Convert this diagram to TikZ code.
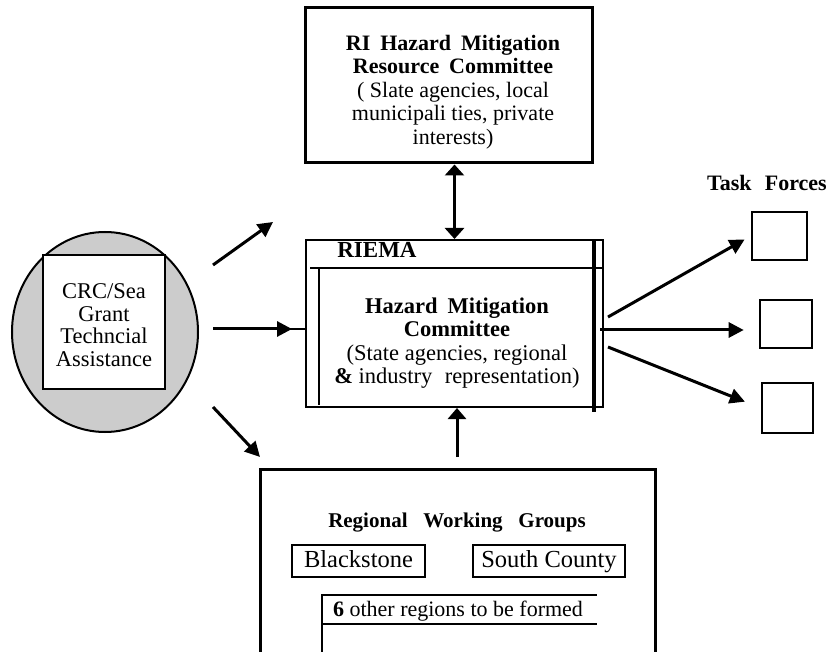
\documentclass[tikz,border=0pt]{standalone}
\usepackage{fontspec}
\setmainfont{Liberation Serif}
\usetikzlibrary{arrows.meta,shapes.geometric,calc}
\begin{document}
\begin{tikzpicture}[x=1pt,y=-1pt,
  boxline/.style={draw, line width=3pt},
  thinbox/.style={draw, line width=1.8pt, inner sep=0pt},
  arr/.style={line width=3pt, -{Triangle[length=15pt,width=15pt]}},
  dbl/.style={line width=3pt, {Triangle[length=11pt,width=19pt]}-{Triangle[length=11pt,width=19pt]}},
  uparr/.style={line width=3pt, -{Triangle[length=11pt,width=18pt]}},
  txt/.style={font=\fontsize{21}{23}\selectfont, align=center, inner sep=0pt},
  btxt/.style={font=\bfseries\fontsize{21}{23}\selectfont, align=center, inner sep=0pt}]
\useasboundingbox (0,0) rectangle (833,652);

% left circle with CRC box
\node[ellipse, draw, line width=2pt, fill=black!20, minimum width=186pt, minimum height=200pt, inner sep=0pt] (cir) at (105,332) {};
\node[draw, line width=2.6pt, fill=white, minimum width=122pt, minimum height=134pt, inner sep=0pt] (crc) at (104,322) {};
\node[txt, font=\fontsize{22.5}{22.5}\selectfont] (crctxt) at (104,325) {CRC/Sea\\Grant\\Techncial\\Assistance};

% top box
\node[boxline, minimum width=287pt, minimum height=155pt, inner sep=0pt] (rim) at (448.5,85.5) {};
\node[txt, font=\fontsize{22}{23.5}\selectfont] (rimtxt) at (453,92)
  {\textbf{RI\hspace{0.45em}Hazard\hspace{0.45em}Mitigation}\\
   \textbf{Resource\hspace{0.45em}Committee}\\
   ( Slate agencies, local\\
   municipali ties, private\\
   interests)};

% middle box
\node[draw, line width=2pt, minimum width=297pt, minimum height=167pt, inner sep=0pt] (mid) at (454.5,323.5) {};
\draw[line width=2.8pt] (310,268) -- (603,268);
\draw[line width=2.8pt] (319,268) -- (319,405);
\draw[line width=2.8pt] (310,407) -- (603,407);
\draw[line width=4.5pt] (594,240) -- (594,412);
\node[font=\bfseries\fontsize{23}{23}\selectfont, inner sep=0pt] (riema) at (377,250) {RIEMA};
\node[txt, font=\fontsize{22.5}{23.5}\selectfont] (midtxt) at (457,343)
  {\textbf{Hazard\hspace{0.45em}Mitigation}\\
   \textbf{Committee}\\
   (State agencies, regional\\
   \textbf{\&} industry\hspace{0.3em} representation)};

% vertical arrow between top and middle
\draw[dbl] (rim.south -| mid.north) -- (mid.north);

% task forces
\node[font=\bfseries\fontsize{22}{22}\selectfont, inner sep=0pt] (tflabel) at (767,183) {Task\hspace{0.6em}Forces};
\node[draw, line width=2.6pt, minimum width=55pt, minimum height=48pt, inner sep=0pt] (tf1) at (779.5,236) {};
\node[draw, line width=2.6pt, minimum width=52pt, minimum height=48pt, inner sep=0pt] (tf2) at (786,324) {};
\node[draw, line width=2.6pt, minimum width=51pt, minimum height=50pt, inner sep=0pt] (tf3) at (787.5,408) {};

\coordinate (r1) at (608,317);
\coordinate (r2) at (600,330);
\coordinate (r3) at (608,347);
\draw[arr, shorten >=7pt] (r1) -- (tf1.west);
\draw[arr, shorten >=15pt] (r2) -- (r2 -| tf2.west);
\draw[arr, shorten >=17pt] (r3) -- (tf3.west);

% left arrows
\coordinate (lu1) at (213,265);
\coordinate (lu2) at (273,222);
\draw[arr] (lu1) -- (lu2);
\coordinate (lm) at (213,329);
\draw[line width=2.8pt] (lm) -- (lm -| mid.west);
\draw[arr] (lm) -- ($(lm -| mid.west)+(-13,0)$);
\coordinate (ll1) at (213,407);
\coordinate (ll2) at (260,457);
\draw[arr] (ll1) -- (ll2);

% bottom box
\draw[line width=3pt] (260,652) -- (260,469) -- (655,469) -- (655,652);
\coordinate (bst) at (457,457);
\draw[uparr] (bst) -- (bst |- mid.south);
\node[btxt, font=\bfseries\fontsize{21}{21}\selectfont] (rwg) at (457,523)
  {Regional\hspace{0.75em}Working\hspace{0.75em}Groups};
\node[thinbox, minimum width=133pt, minimum height=32pt, text height=17pt, text depth=5pt, font=\fontsize{24.5}{24.5}\selectfont] (bl) at (358.5,561) {Blackstone};
\node[thinbox, minimum width=152pt, minimum height=32pt, text height=17pt, text depth=5pt, font=\fontsize{24.5}{24.5}\selectfont] (sc) at (549,561) {South County};
\draw[line width=2pt] (322,652) -- (322,595) -- (597,595);
\draw[line width=2pt] (322,624) -- (597,624);
\node[font=\fontsize{22}{22}\selectfont, inner sep=0pt] (other) at (458,611) {\textbf{6} other regions to be formed};
\end{tikzpicture}
\end{document}
